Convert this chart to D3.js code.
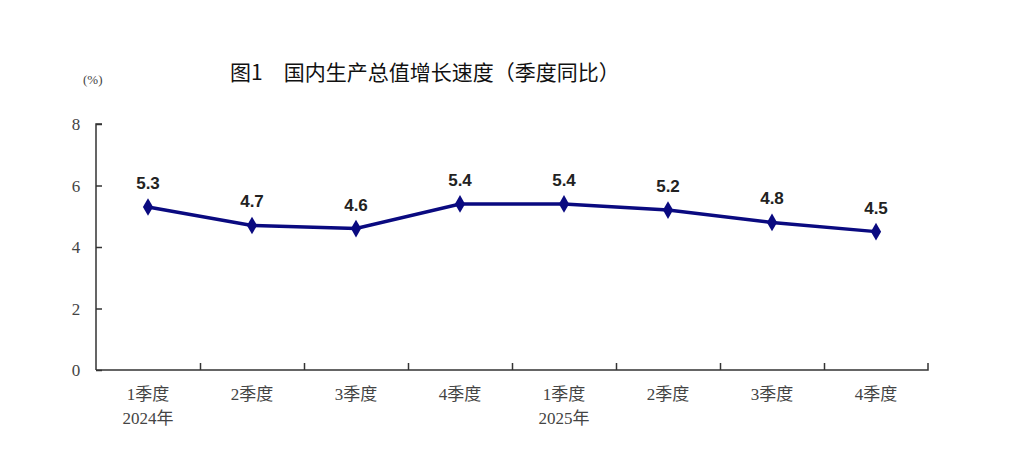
<!DOCTYPE html>
<html><head><meta charset="utf-8">
<script src="https://cdn.jsdelivr.net/npm/d3@7"></script>
<style>body{margin:0;background:#fff}</style>
</head><body><svg id="c" width="1028" height="458"></svg>
<script>
const quarters = ["1季度","2季度","3季度","4季度","1季度","2季度","3季度","4季度"]
const years = ["2024年","","","","2025年","","",""]
const growth = [5.3,4.7,4.6,5.4,5.4,5.2,4.8,4.5]
const yTicks = [0,2,4,6,8]

const svg = d3.select("#c")
const mLeft = 96, mRight = 928, mTop = 124, mBottom = 370
const serif = "'Liberation Serif','Noto Sans CJK SC',serif"

const x = d3.scaleBand().domain(d3.range(quarters.length)).range([mLeft, mRight])
const y = d3.scaleLinear().domain([0, 8]).range([mBottom, mTop])

// title
svg.append("text").attr("x", 230).attr("y", 80).attr("font-size", 21)
    .attr("font-family", "'Noto Sans CJK SC',sans-serif").attr("fill", "#111")
    .text("图1　国内生产总值增长速度（季度同比）")
svg.append("text").attr("x", 83).attr("y", 84).attr("font-size", 13)
    .attr("font-family", serif).attr("fill", "#444").text("(%)")

// y axis
const ya = svg.append("g").attr("transform", `translate(${mLeft},0)`)
    .call(d3.axisRight(y).tickValues(yTicks).tickSize(6).tickFormat(""))
ya.selectAll("line,path").attr("stroke", "#333").attr("stroke-width", 1.5)
ya.select(".domain").attr("d", `M6,${mTop}H0V${mBottom}`)
svg.selectAll(".ylab").data(yTicks).enter().append("text")
    .attr("x", mLeft - 20).attr("y", d => y(d) + 6).attr("text-anchor", "middle")
    .attr("font-size", 17).attr("font-family", serif).attr("fill", "#444").text(d => d)

// x axis
const xa = svg.append("g").attr("transform", `translate(0,${mBottom})`)
    .call(d3.axisTop(d3.scaleLinear().domain([0, 8]).range([mLeft, mRight]))
        .tickValues(d3.range(1, 8)).tickSize(7).tickFormat(""))
xa.selectAll("line,path").attr("stroke", "#333").attr("stroke-width", 1.5)
xa.select(".domain").attr("d", `M${mLeft},0H${mRight}V-7`)

const cx = i => x(i) + x.bandwidth() / 2
svg.selectAll(".q").data(quarters).enter().append("text")
    .attr("x", (d, i) => cx(i)).attr("y", 400).attr("text-anchor", "middle")
    .attr("font-size", 17).attr("font-family", serif).attr("fill", "#444").text(d => d)
svg.selectAll(".yr").data(years).enter().append("text")
    .attr("x", (d, i) => cx(i)).attr("y", 424).attr("text-anchor", "middle")
    .attr("font-size", 17).attr("font-family", serif).attr("fill", "#444").text(d => d)

// line
svg.append("path").datum(growth)
    .attr("d", d3.line().x((d, i) => cx(i)).y(d => y(d)))
    .attr("fill", "none").attr("stroke", "#0a0a80").attr("stroke-width", 3.5)
svg.selectAll(".pt").data(growth).enter().append("path")
    .attr("d", d3.symbol(d3.symbolDiamond, 90))
    .attr("transform", (d, i) => `translate(${cx(i)},${y(d)})`).attr("fill", "#0a0a80")
svg.selectAll(".lbl").data(growth).enter().append("text")
    .attr("x", (d, i) => cx(i)).attr("y", d => y(d) - 18).attr("text-anchor", "middle")
    .attr("font-size", 17).attr("font-weight", "bold").attr("font-family", "'Liberation Sans',Arial,sans-serif")
    .attr("fill", "#222").text(d => d.toFixed(1))
</script></body></html>
